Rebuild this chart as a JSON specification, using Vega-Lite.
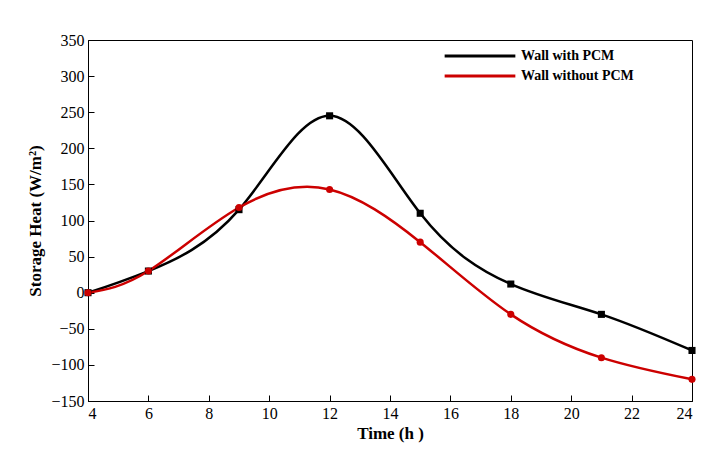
{
  "$schema": "https://vega.github.io/schema/vega-lite/v6.json",
  "width": 604,
  "height": 361,
  "padding": {"left": 26, "top": 32, "right": 8, "bottom": 4},
  "background": "white",
  "config": {
    "font": "Liberation Serif",
    "view": {"stroke": "black", "strokeWidth": 1},
    "axis": {"labelFont": "Liberation Serif", "titleFont": "Liberation Serif", "labelFontSize": 16, "titleFontSize": 17, "titleFontWeight": "bold", "labelColor": "black", "titleColor": "black", "domainColor": "black", "tickColor": "black", "grid": false, "tickSize": -6, "labelPadding": 10, "labelOverlap": false}
  },
  "data": {"values": [
    {"t": 4, "v": 0, "s": "Wall with PCM"},
    {"t": 6, "v": 30, "s": "Wall with PCM"},
    {"t": 9, "v": 115, "s": "Wall with PCM"},
    {"t": 12, "v": 245, "s": "Wall with PCM"},
    {"t": 15, "v": 110, "s": "Wall with PCM"},
    {"t": 18, "v": 12, "s": "Wall with PCM"},
    {"t": 21, "v": -30, "s": "Wall with PCM"},
    {"t": 24, "v": -80, "s": "Wall with PCM"},
    {"t": 4, "v": 0, "s": "Wall without PCM"},
    {"t": 6, "v": 30, "s": "Wall without PCM"},
    {"t": 9, "v": 118, "s": "Wall without PCM"},
    {"t": 12, "v": 143, "s": "Wall without PCM"},
    {"t": 15, "v": 70, "s": "Wall without PCM"},
    {"t": 18, "v": -30, "s": "Wall without PCM"},
    {"t": 21, "v": -90, "s": "Wall without PCM"},
    {"t": 24, "v": -120, "s": "Wall without PCM"}
  ]},
  "encoding": {
    "x": {"field": "t", "type": "quantitative", "scale": {"domain": [4, 24], "nice": false}, "axis": {"values": [4,6,8,10,12,14,16,18,20,22,24], "title": "Time (h  )", "titlePadding": 4}},
    "y": {"field": "v", "type": "quantitative", "scale": {"domain": [-150, 350], "nice": false}, "axis": {"values": [-150,-100,-50,0,50,100,150,200,250,300,350], "title": "Storage Heat (W/m²)", "titlePadding": 6}},
    "color": {"field": "s", "type": "nominal", "scale": {"domain": ["Wall with PCM", "Wall without PCM"], "range": ["black", "#cc0000"]},
      "legend": {"title": null, "orient": "none", "legendX": 355, "legendY": 8, "symbolType": "stroke", "symbolSize": 5000, "symbolStrokeWidth": 3, "clipHeight": 16, "labelFont": "Liberation Serif", "labelFontSize": 14, "labelFontWeight": "bold", "labelColor": "black", "rowPadding": 4}}
  },
  "layer": [
    {"mark": {"type": "line", "interpolate": "natural", "strokeWidth": 2.5}},
    {"mark": {"type": "point", "filled": true, "opacity": 1, "size": 50}, "encoding": {"shape": {"field": "s", "type": "nominal", "scale": {"range": ["square", "circle"]}, "legend": null}}}
  ]
}
